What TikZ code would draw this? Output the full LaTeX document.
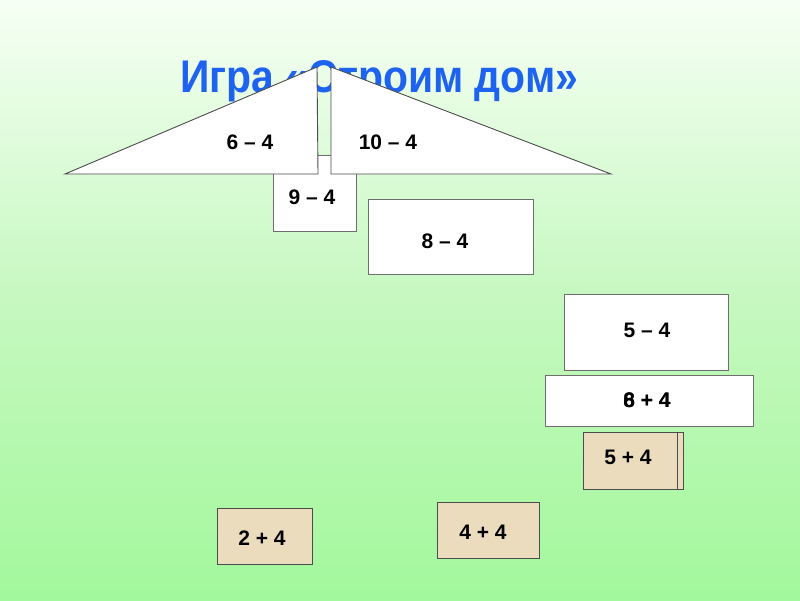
\documentclass[tikz,border=0pt]{standalone}
\usepackage{fontspec}
\setmainfont{Liberation Sans}
\definecolor{bgtop}{HTML}{F6FFF4}
\definecolor{bgmid}{HTML}{C6F8C0}
\definecolor{bgbot}{HTML}{A2F89C}
\definecolor{titleblue}{HTML}{1E62F0}
\definecolor{parch}{HTML}{EBDCBE}
\definecolor{edge}{HTML}{6E6E6E}
\begin{document}
\begin{tikzpicture}[x=1pt,y=-1pt,
  box/.style={draw=edge, line width=0.9pt, fill=white, inner sep=0pt},
  pbox/.style={draw=black!70, line width=0.9pt, fill=parch, inner sep=0pt},
  num/.style={font=\bfseries\fontsize{21}{21}\selectfont, inner sep=0pt},
  roof/.style={draw=black!70, line width=0.9pt, fill=white, line join=miter}]
% background
\shade[top color=bgtop, bottom color=bgbot, middle color=bgmid] (0,0) rectangle (800,600);
\useasboundingbox (0,0) rectangle (800,600);
% title
\node[anchor=base west, inner sep=0pt, text=titleblue] (title) at (180,92)
  {\scalebox{1}[1.12]{\resizebox{398pt}{!}{\bfseries\fontsize{40}{40}\selectfont Игра «Строим дом»}}};
% 9-4 box (behind the roof)
\node[box, minimum width=83pt, minimum height=76pt] (b94) at (315,193) {};
\node[num] (t94) at (312,197) {9 – 4};
% roof triangles
\coordinate (l1) at (65,174);
\coordinate (l2) at (317,67);
\coordinate (l3) at (318,174);
\coordinate (r1) at (331,67);
\coordinate (r2) at (611,174);
\coordinate (r3) at (331,174);
\draw[roof] (l1) -- (l2) -- (l3) -- cycle;
\draw[roof] (r1) -- (r2) -- (r3) -- cycle;
\node[num] (t64) at (250,142) {6 – 4};
\node[num] (t104) at (388,142) {10 – 4};
% 8-4
\node[box, minimum width=165pt, minimum height=75pt] (b84) at (450.5,236.5) {};
\node[num] (t84) at (445,241) {8 – 4};
% 5-4
\node[box, minimum width=164pt, minimum height=76pt] (b54) at (646,332) {};
\node[num] (t54) at (647,330) {5 – 4};
% 6+4 / 8+4 stacked
\node[box, minimum width=208pt, minimum height=51pt] (b64) at (649,400.5) {};
\node[num] (t84p) at (647,400) {8 + 4};
\node[num] (t64p) at (647,400) {6 + 4};
% 5+4 stacked cards
\node[pbox, minimum width=94pt, minimum height=57pt] (b54pb) at (636,460.5) {};
\node[pbox, minimum width=94pt, minimum height=57pt] (b54p) at (630,460.5) {};
\node[num] (t54p) at (628,457) {5 + 4};
% 2+4
\node[pbox, minimum width=95pt, minimum height=56pt] (b24) at (264.5,536) {};
\node[num] (t24) at (262,538) {2 + 4};
% 4+4
\node[pbox, minimum width=102pt, minimum height=56pt] (b44) at (488,530) {};
\node[num] (t44) at (483,532) {4 + 4};
\end{tikzpicture}
\end{document}
